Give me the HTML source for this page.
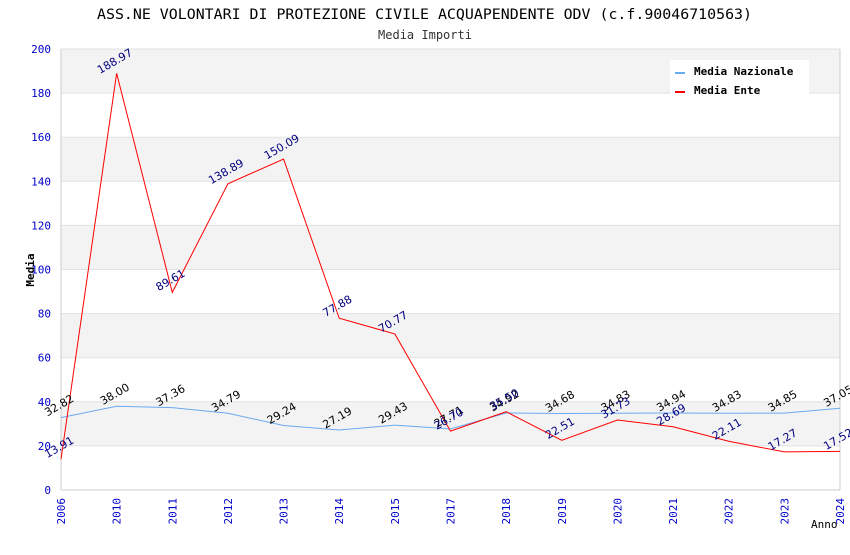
<!DOCTYPE html>
<html><head><meta charset="utf-8"><style>
body{margin:0;background:#fff;}
svg text{font-family:"DejaVu Sans Mono","Liberation Mono",monospace;}
svg text.v{font-family:"DejaVu Sans","Liberation Sans",sans-serif;}
</style></head><body>
<svg id="c" width="850" height="550" xmlns="http://www.w3.org/2000/svg">
<text x="97" y="19" textLength="655" lengthAdjust="spacingAndGlyphs" font-size="14" fill="#000">ASS.NE VOLONTARI DI PROTEZIONE CIVILE ACQUAPENDENTE ODV (c.f.90046710563)</text>
<text x="425" y="39" text-anchor="middle" font-size="12" fill="#333">Media Importi</text>
<g id="bands"></g><g id="grid"></g><g id="axes"></g><g id="series"></g><g id="labels"></g>
<text x="34" y="270" font-size="11" font-weight="bold" transform="rotate(-90 34 270)" text-anchor="middle">Media</text>
<text x="811" y="528" font-size="11">Anno</text>
<g>
<rect x="670" y="60" width="139" height="36" fill="#fff"/>
<rect x="675" y="72" width="10" height="2" fill="#6aaaf0"/>
<text x="694" y="75" font-size="11" font-weight="bold">Media Nazionale</text>
<rect x="675" y="91" width="10" height="2" fill="#f00"/>
<text x="694" y="94" font-size="11" font-weight="bold">Media Ente</text>
</g>
</svg>
<script>
const categories=["2006","2010","2011","2012","2013","2014","2015","2017","2018","2019","2020","2021","2022","2023","2024"];
const nazionale=[32.82,38.00,37.36,34.79,29.24,27.19,29.43,27.71,34.92,34.68,34.83,34.94,34.83,34.85,37.05];
const ente=[13.91,188.97,89.61,138.89,150.09,77.88,70.77,26.70,35.50,22.51,31.73,28.69,22.11,17.27,17.52];
const yTicks=[0,20,40,60,80,100,120,140,160,180,200];
const NS="http://www.w3.org/2000/svg";
const L=61,R=840,T=49,B=490;
const x=i=>L+i*(R-L)/(categories.length-1);
const y=v=>B-v/200*(B-T);
function mk(tag,attrs,parent){const e=document.createElementNS(NS,tag);for(const k in attrs)e.setAttribute(k,attrs[k]);document.getElementById(parent).appendChild(e);return e;}
for(let i=0;i<yTicks.length-1;i++){
  if(i%2===1){const r=mk('rect',{x:L,y:y(yTicks[i+1]),width:R-L,height:y(yTicks[i])-y(yTicks[i+1]),fill:'#f3f3f3'},'bands');
  
  }
}
yTicks.forEach(v=>{
  const g=mk('line',{x1:L,x2:R,y1:y(v),y2:y(v),stroke:'#e2e2e2'},'grid');
  
  
  const t=mk('text',{x:L-10,y:y(v)+4,'text-anchor':'end','font-size':11,fill:'#0000cc'},'axes');
  t.textContent=v;
  
  
});
const ax=mk('line',{x1:L,x2:L,y1:T,y2:B,stroke:'#ccc'},'axes');


const ax2=mk('line',{x1:L,x2:R,y1:B,y2:B,stroke:'#ccc'},'axes');


const ax3=mk('line',{x1:R,x2:R,y1:T,y2:B,stroke:'#ccc'},'axes');


categories.forEach((c,i)=>{
  const t=mk('text',{x:x(i)+4,y:B+8,'text-anchor':'end','font-size':11,fill:'#0000cc',transform:`rotate(-90 ${x(i)+4} ${B+8})`},'axes');
  t.textContent=c;
  
  
});
function series(vals,color,name,lblColor){
  const p=mk('polyline',{points:vals.map((v,i)=>x(i)+','+y(v)).join(' '),fill:'none',stroke:color,'stroke-width':1},'series');
  
  
  vals.forEach((v,i)=>{
    const lx=x(i),ly=y(v)-9;
    const t=mk('text',{x:lx,y:ly,'class':'v','text-anchor':'middle','font-size':11,fill:lblColor,transform:`rotate(-30 ${lx} ${ly})`},'labels');
    t.textContent=v.toFixed(2);
    
    
  });
}
series(nazionale,'#6aaaf0','nazionale','#000');
series(ente,'#f00','ente','#000080');
</script>
</body></html>
